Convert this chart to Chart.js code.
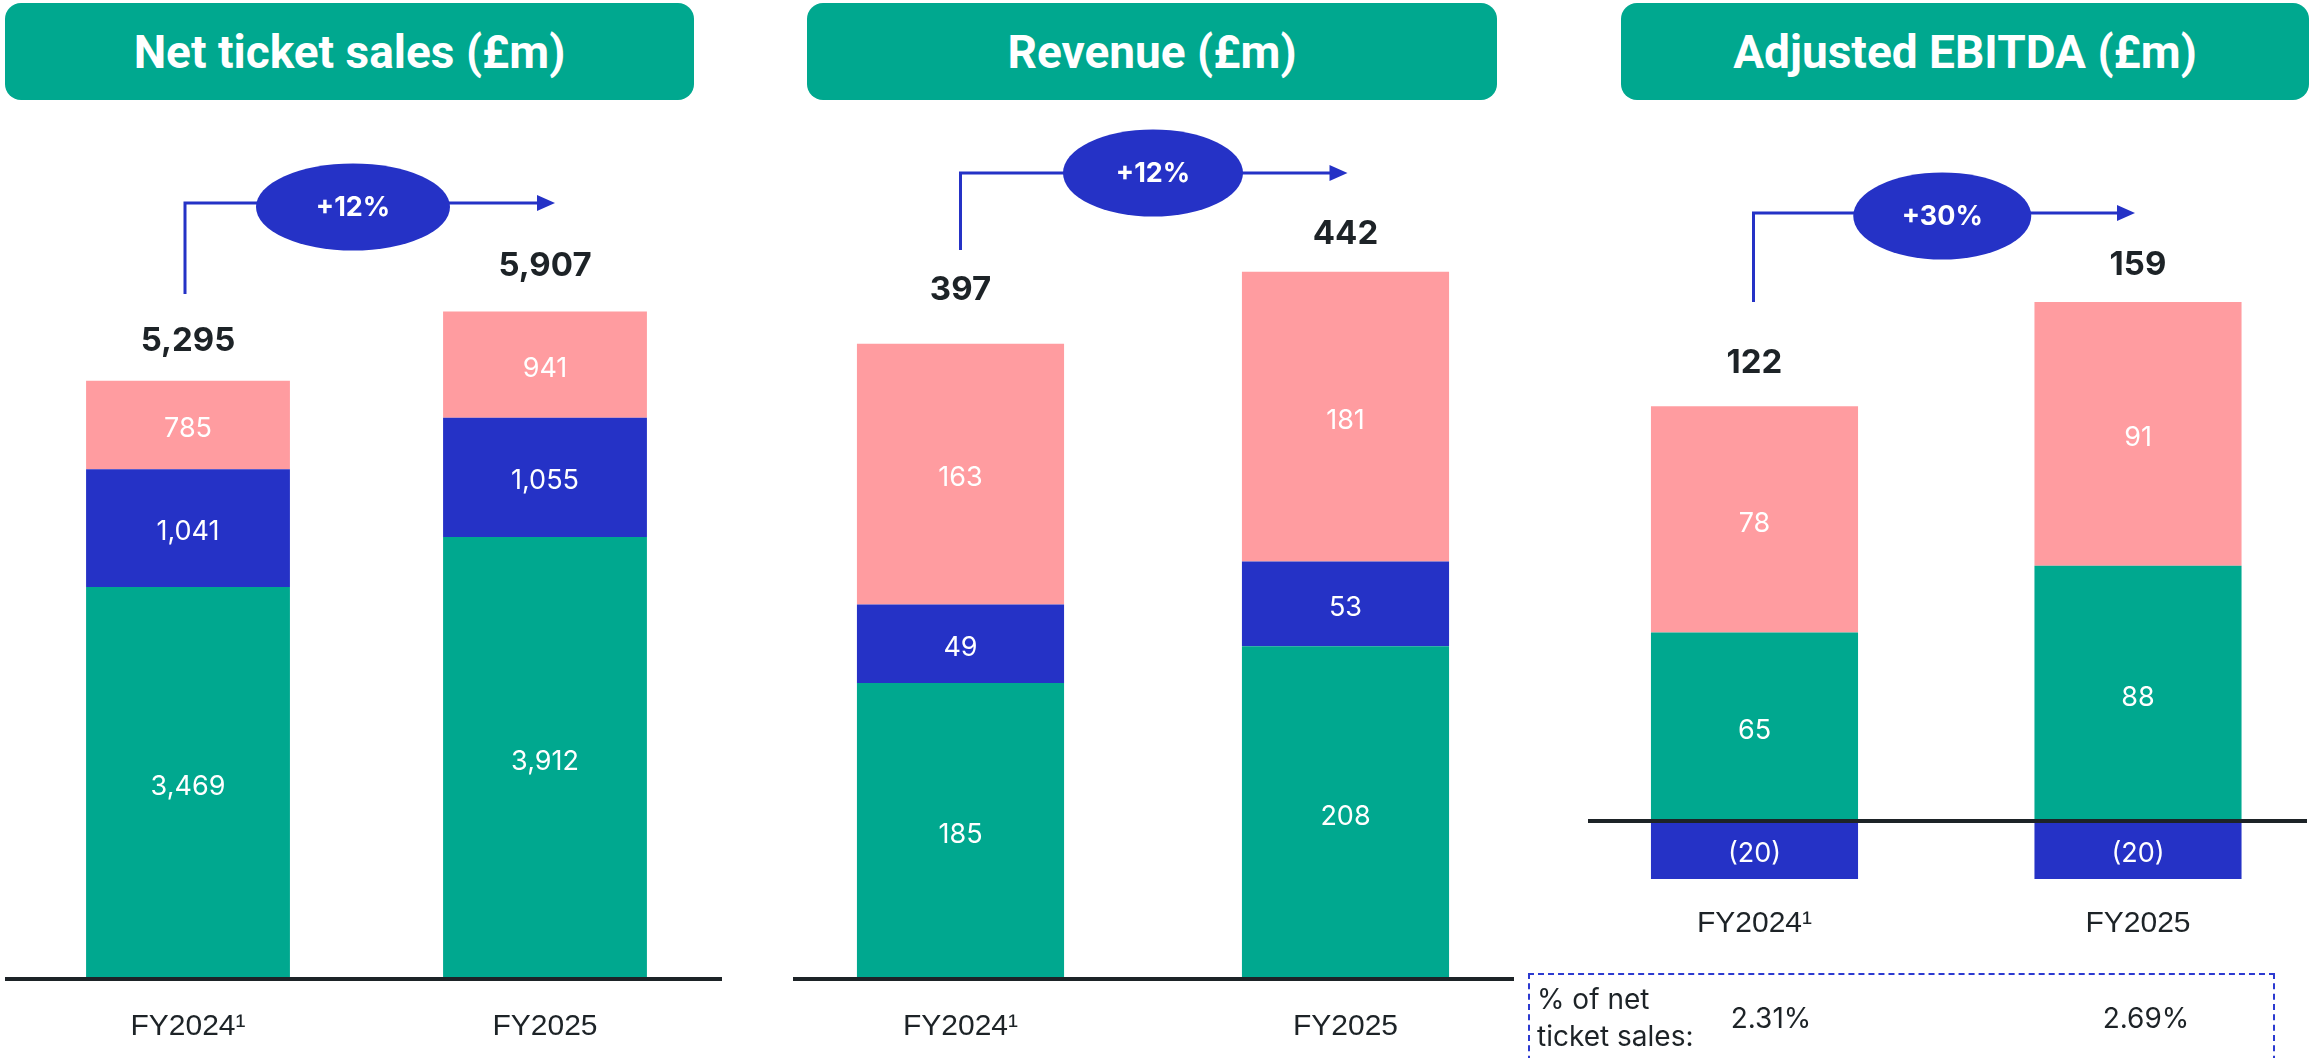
<!DOCTYPE html>
<html>
<head>
<meta charset="utf-8">
<script src="https://cdn.jsdelivr.net/npm/chart.js@4.4.1/dist/chart.umd.min.js"></script>
<style>
html, body { margin: 0; padding: 0; background: #fff; }
body { width: 2324px; height: 1058px; position: relative; overflow: hidden; font-family: Inter, sans-serif; color: #1d2327; }
canvas { position: absolute; left: 0; top: 0; }
.title { position: absolute; top: 3px; height: 97px; background: #00a88f; border-radius: 16px; color: #fff;
  font: bold 46px "Liberation Sans Narrow", Roboto, sans-serif; display: flex; align-items: center; justify-content: center; }
.pct { position: absolute; left: 1528px; top: 973px; width: 747px; height: 130px; border: 2px dashed #2c3ad0; box-sizing: border-box; }
.pctlab { position: absolute; left: 1537px; top: 981px; font-size: 28px; line-height: 37px; }
.pctval { position: absolute; top: 1000px; font-size: 28px; line-height: 36px; transform: translateX(-50%); }
</style>
</head>
<body>
<div class="title" style="left:5px;width:689px">Net ticket sales (£m)</div>
<div class="title" style="left:807px;width:690px">Revenue (£m)</div>
<div class="title" style="left:1621px;width:688px">Adjusted EBITDA (£m)</div>
<canvas id="c1" width="2324" height="1058"></canvas>
<canvas id="c2" width="2324" height="1058"></canvas>
<canvas id="c3" width="2340" height="1058"></canvas>
<div class="pct"></div>
<div class="pctlab">% of net<br>ticket sales:</div>
<div class="pctval" id="p0" style="left:1771px"></div>
<div class="pctval" id="p1" style="left:2146px"></div>
<script>
// data
const years = ['FY2024\u00b9', 'FY2025'];

const ntsUK = [3469, 3912];
const ntsIntl = [1041, 1055];
const ntsSolutions = [785, 941];
const ntsTotal = [5295, 5907];

const revUK = [185, 208];
const revIntl = [49, 53];
const revSolutions = [163, 181];
const revTotal = [397, 442];

const ebitdaUK = [65, 88];
const ebitdaIntl = [-20, -20];
const ebitdaSolutions = [78, 91];
const ebitdaTotal = [122, 159];

const growth = ['+12%', '+12%', '+30%'];
const marginPct = ['2.31%', '2.69%'];

const green = '#00a88f', blue = '#2532c6', pink = '#ff9ca0', dark = '#1d2327';

document.getElementById('p0').textContent = marginPct[0];
document.getElementById('p1').textContent = marginPct[1];

function fmt(v) {
    return v.toLocaleString('en-GB');
}

const annot = {
    id: 'annot',
    afterDatasetsDraw(chart, args, o) {
        const ctx = chart.ctx, x = chart.scales.x, y = chart.scales.y;
        ctx.save();
        ctx.textAlign = 'center';
        ctx.textBaseline = 'middle';

        // values inside the segments
        ctx.font = '27px Inter';
        ctx.fillStyle = '#fff';
        chart.data.datasets.forEach((ds, i) => {
            chart.getDatasetMeta(i).data.forEach((bar, j) => {
                const v = ds.data[j];
                const txt = v < 0 ? '(' + fmt(-v) + ')' : fmt(v);
                ctx.fillText(txt, bar.x, (bar.y + bar.base) / 2 + 4);
            });
        });

        // zero line
        const y0 = y.getPixelForValue(0);
        ctx.strokeStyle = dark;
        ctx.lineWidth = 4;
        ctx.beginPath();
        ctx.moveTo(o.line[0], y0);
        ctx.lineTo(o.line[1], y0);
        ctx.stroke();

        // totals above bars
        ctx.font = 'bold 33px Inter';
        ctx.fillStyle = dark;
        o.total.forEach((t, j) => {
            const pos = chart.data.datasets.reduce((s, ds) => s + Math.max(ds.data[j], 0), 0);
            ctx.fillText(fmt(t), x.getPixelForValue(j), y.getPixelForValue(pos) - o.gap[j]);
        });

        // growth arrow
        const a = o.arrow;
        const xa = x.getPixelForValue(0) + a.dx0, xb = x.getPixelForValue(1) + a.dx1;
        ctx.strokeStyle = blue;
        ctx.fillStyle = blue;
        ctx.lineWidth = 3;
        ctx.beginPath();
        ctx.moveTo(xa, a.bottom);
        ctx.lineTo(xa, a.top);
        ctx.lineTo(xb - 14, a.top);
        ctx.stroke();
        ctx.beginPath();
        ctx.moveTo(xb, a.top);
        ctx.lineTo(xb - 18, a.top - 8);
        ctx.lineTo(xb - 18, a.top + 8);
        ctx.closePath();
        ctx.fill();
        const ex = (xa + xb) / 2 + a.ex, ey = a.top + a.ey;
        ctx.beginPath();
        ctx.ellipse(ex, ey, a.ew / 2, 43.5, 0, 0, Math.PI * 2);
        ctx.fill();
        ctx.fillStyle = '#fff';
        ctx.font = 'bold 27px Inter';
        ctx.fillText(o.growth, ex, ey + 1);
        ctx.restore();
    }
};

function makeChart(id, canvasW, uk, intl, sol, total, g, s) {
    const top = 110;
    new Chart(document.getElementById(id), {
        type: 'bar',
        data: {
            labels: years,
            datasets: [
                { label: 'UK Consumer', data: uk, backgroundColor: green },
                { label: 'International Consumer', data: intl, backgroundColor: blue },
                { label: 'Trainline Solutions', data: sol, backgroundColor: pink }
            ]
        },
        options: {
            responsive: false,
            animation: false,
            devicePixelRatio: 1,
            layout: { padding: { left: s.left, right: canvasW - s.right, top: top, bottom: 1058 - s.bottom - 79 } },
            datasets: { bar: { categoryPercentage: s.cat, barPercentage: 1, borderWidth: 0 } },
            scales: {
                x: {
                    stacked: true,
                    grid: { display: false },
                    border: { display: false },
                    ticks: { padding: s.tickPad, color: dark, font: { family: 'Liberation Sans', size: 30 } },
                    afterFit: sc => { sc.height = 79; }
                },
                y: {
                    stacked: true,
                    display: false,
                    min: s.min,
                    max: s.min + (s.bottom - top) / s.px
                }
            },
            plugins: {
                legend: { display: false },
                tooltip: { enabled: false },
                annot: { total: total, growth: g, line: s.line, gap: s.gap, arrow: s.arrow }
            }
        },
        plugins: [annot]
    });
}

makeChart('c1', 2324, ntsUK, ntsIntl, ntsSolutions, ntsTotal, growth[0], {
    left: 9.5, right: 723.5, bottom: 979, px: 0.113, min: 0, cat: 0.571, tickPad: 22,
    line: [5, 722], gap: [40, 45],
    arrow: { dx0: -3, dx1: 10, top: 203, bottom: 294, ex: -17, ey: 4, ew: 194 }
});
makeChart('c2', 2324, revUK, revIntl, revSolutions, revTotal, growth[1], {
    left: 768, right: 1538, bottom: 979, px: 1.6, min: 0, cat: 0.538, tickPad: 22,
    line: [793, 1514], gap: [54, 38],
    arrow: { dx0: 0, dx1: 2, top: 173, bottom: 250, ex: -1, ey: 0, ew: 180 }
});
makeChart('c3', 2340, ebitdaUK, ebitdaIntl, ebitdaSolutions, ebitdaTotal, growth[2], {
    left: 1562.75, right: 2329.75, bottom: 879, px: 2.9, min: -20, cat: 0.54, tickPad: 19,
    line: [1588, 2307], gap: [43, 37],
    arrow: { dx0: -1, dx1: -3, top: 213, bottom: 302, ex: -2, ey: 3, ew: 178 }
});
</script>
</body>
</html>
